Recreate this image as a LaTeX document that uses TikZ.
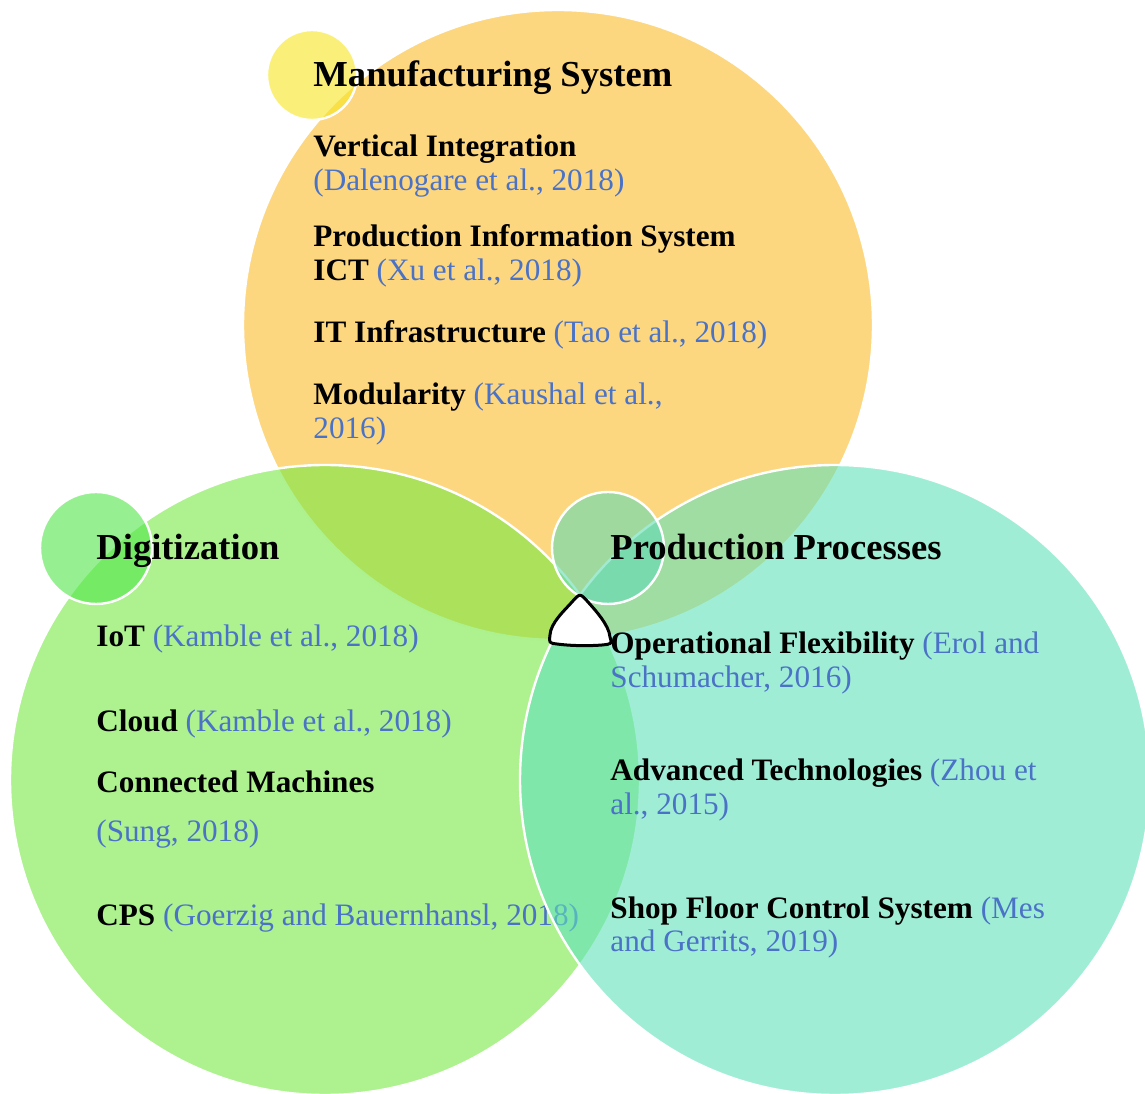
\documentclass[tikz,border=0pt]{standalone}
\usepackage{fontspec}
\setmainfont{Liberation Serif}
\usepackage{xcolor}
\usetikzlibrary{positioning}
\definecolor{mfgfill}{HTML}{FCBC2A}
\definecolor{digfill}{HTML}{76E943}
\definecolor{procfill}{HTML}{61E1BB}
\definecolor{dotyellow}{HTML}{F7E620}
\definecolor{dotgreen}{HTML}{50E648}
\definecolor{dotteal}{HTML}{61DCB4}
\definecolor{citeblue}{HTML}{4A72C6}
\newcommand{\src}[1]{{\mdseries\color{citeblue}#1}}
\tikzset{
  setcircle/.style={fill=#1, fill opacity=0.6, draw=white, line width=1.2pt},
  dotcircle/.style={fill=#1, fill opacity=0.6, draw=white, line width=1.2pt},
  ttl/.style={anchor=base west, inner sep=0pt, font=\fontsize{18.3}{20}\selectfont\bfseries},
  itm/.style={anchor=base west, inner sep=0pt, font=\fontsize{15.6}{17}\selectfont\bfseries},
}

\begin{document}
\begin{tikzpicture}[x=0.5pt, y=0.5pt]
  \useasboundingbox (0,0) rectangle (1145,1093);

  % set centres
  \coordinate (mfg)  at (558,768);
  \coordinate (dig)  at (325,313);
  \coordinate (proc) at (835,313);

  \draw[setcircle=mfgfill] (mfg) circle[radius=315];
  \draw[setcircle=digfill] (dig) circle[radius=315];

  % Digitization items (partly under the third set)
  \node[itm] (iot)   at (96,446) {IoT \src{(Kamble et al., 2018)}};
  \node[itm] (cloud) at (96,362) {Cloud \src{(Kamble et al., 2018)}};
  \node[itm] (conn)  at (96,301) {Connected Machines};
  \node[itm] (conn2) at (96,252) {\src{(Sung, 2018)}};
  \node[itm] (cps)   at (96,168) {CPS \src{(Goerzig and Bauernhansl, 2018)}};

  \draw[setcircle=procfill] (proc) circle[radius=315];

  % small markers
  \draw[dotcircle=dotyellow] (312,1018) circle[radius=45];
  \draw[dotcircle=dotgreen]  (96,545)   circle[radius=56];
  \draw[dotcircle=dotteal]   (608,545)  circle[radius=56];

  % common part of the three sets
  \draw[fill=white, line width=1.5pt, line join=round]
    (572,491) .. controls (564.7,482.8) and (550.5,470) .. (550,458)
    .. controls (549,450) .. (557,449)
    .. controls (572,447) and (590,447) .. (602,448)
    .. controls (612,449) .. (610,456)
    .. controls (609,468) and (595.3,482.8) .. (588,491)
    .. controls (580,500) .. cycle;

  % titles
  \node[ttl] (mfgt)  at (313,1006) {Manufacturing System};
  \node[ttl] (digt)  at (96,533)   {Digitization};
  \node[ttl] (proct) at (610,533)  {Production Processes};

  % Manufacturing System items
  \node[itm] (vi)   at (313,936) {Vertical Integration};
  \node[itm] (vi2)  at (313,902) {\src{(Dalenogare et al., 2018)}};
  \node[itm] (pis)  at (313,846) {Production Information System};
  \node[itm] (pis2) at (313,812) {ICT \src{(Xu et al., 2018)}};
  \node[itm] (iti)  at (313,750) {IT Infrastructure \src{(Tao et al., 2018)}};
  \node[itm] (mod)  at (313,688) {Modularity \src{(Kaushal et al.,}};
  \node[itm] (mod2) at (313,654) {\src{2016)}};

  % Production Processes items
  \node[itm] (opf)  at (610,439) {Operational Flexibility \src{(Erol and}};
  \node[itm] (opf2) at (610,405) {\src{Schumacher, 2016)}};
  \node[itm] (adv)  at (610,313) {Advanced Technologies \src{(Zhou et}};
  \node[itm] (adv2) at (610,279) {\src{al., 2015)}};
  \node[itm] (sfc)  at (610,175) {Shop Floor Control System \src{(Mes}};
  \node[itm] (sfc2) at (610,142) {\src{and Gerrits, 2019)}};
\end{tikzpicture}
\end{document}
